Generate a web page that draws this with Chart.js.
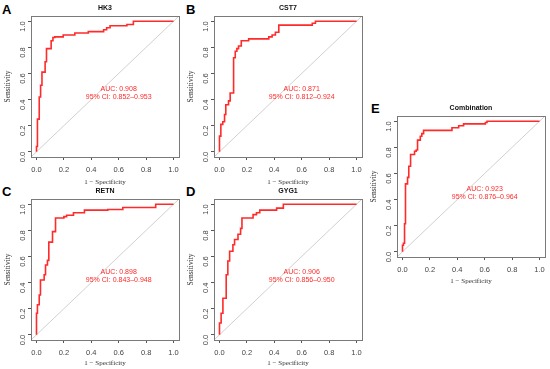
<!DOCTYPE html>
<html>
<head>
<meta charset="utf-8">
<script src="https://cdn.jsdelivr.net/npm/chart.js@4"></script>
<style>
  body { margin: 0; width: 550px; height: 369px; position: relative; overflow: hidden; background: #fff; }
  canvas { position: absolute; }
  .tag { position: absolute; font: bold 13px "Liberation Sans", Arial, sans-serif; line-height: 13px; color: #000; }
</style>
</head>
<body>
<div class="tag" style="left:2px;top:3px">A</div>
<div class="tag" style="left:186px;top:3px">B</div>
<div class="tag" style="left:2px;top:185px">C</div>
<div class="tag" style="left:186px;top:185px">D</div>
<div class="tag" style="left:371px;top:102px">E</div>
<canvas id="chartA"></canvas>
<canvas id="chartB"></canvas>
<canvas id="chartC"></canvas>
<canvas id="chartD"></canvas>
<canvas id="chartE"></canvas>
<script>
// ROC points (1 - specificity, sensitivity)
const hk3Fpr = [0, 0, 0.007, 0.02, 0.03, 0.04, 0.049, 0.063, 0.073, 0.107, 0.12, 0.134, 0.195, 0.28, 0.378, 0.49, 0.512, 0.537, 0.66, 0.707, 1];
const hk3Tpr = [0, 0.04, 0.25, 0.42, 0.51, 0.61, 0.61, 0.69, 0.79, 0.85, 0.875, 0.88, 0.895, 0.91, 0.92, 0.935, 0.95, 0.965, 0.975, 1, 1];

const cst7Fpr = [0, 0, 0.01, 0.024, 0.037, 0.046, 0.066, 0.078, 0.103, 0.115, 0.127, 0.139, 0.159, 0.213, 0.36, 0.384, 0.408, 0.433, 0.677, 0.7, 1];
const cst7Tpr = [0, 0.12, 0.21, 0.23, 0.285, 0.36, 0.39, 0.45, 0.72, 0.77, 0.79, 0.81, 0.85, 0.865, 0.88, 0.895, 0.915, 0.97, 0.985, 1, 1];

const retnFpr = [0, 0, 0.007, 0.02, 0.029, 0.056, 0.066, 0.08, 0.09, 0.117, 0.139, 0.2, 0.22, 0.27, 0.35, 0.52, 0.63, 0.87, 1];
const retnTpr = [0, 0.165, 0.23, 0.305, 0.42, 0.46, 0.535, 0.57, 0.71, 0.79, 0.895, 0.905, 0.915, 0.935, 0.955, 0.96, 0.975, 1, 1];

const gyg1Fpr = [0, 0, 0.012, 0.025, 0.049, 0.061, 0.074, 0.098, 0.11, 0.135, 0.154, 0.164, 0.245, 0.27, 0.294, 0.417, 0.466, 1];
const gyg1Tpr = [0, 0.09, 0.165, 0.28, 0.46, 0.565, 0.64, 0.69, 0.73, 0.77, 0.815, 0.895, 0.92, 0.935, 0.955, 0.97, 1, 1];

const combFpr = [0, 0, 0.007, 0.015, 0.022, 0.037, 0.046, 0.059, 0.088, 0.1, 0.11, 0.13, 0.141, 0.154, 0.361, 0.41, 0.446, 0.605, 0.617, 1];
const combTpr = [0, 0.05, 0.065, 0.215, 0.52, 0.57, 0.655, 0.745, 0.77, 0.78, 0.855, 0.885, 0.905, 0.93, 0.95, 0.965, 0.98, 0.99, 1, 1];

const tickVals = [0, 0.2, 0.4, 0.6, 0.8, 1.0];
const refLine = [-0.04, 1.04];

const rocText = {
  id: "rocText",
  afterDraw(chart, args, opts) {
    const { ctx, chartArea: a, scales } = chart;
    ctx.save();
    ctx.strokeStyle = "#7a7a7a";
    ctx.lineWidth = 1;
    ctx.strokeRect(Math.round(a.left) + 0.5, Math.round(a.top) + 0.5, Math.round(a.width), Math.round(a.height));

    ctx.fillStyle = "#111";
    ctx.font = 'bold 7px "Liberation Sans", Arial, sans-serif';
    ctx.textAlign = "center";
    ctx.textBaseline = "middle";
    ctx.fillText(opts.title, (a.left + a.right) / 2, a.top - 7.5);

    ctx.fillStyle = "#ff2a2a";
    ctx.font = '7px "Liberation Sans", Arial, sans-serif';
    const tx = scales.x.getPixelForValue(0.6);
    ctx.fillText("AUC: " + opts.auc, tx, scales.y.getPixelForValue(0.48));
    ctx.fillText("95% CI: " + opts.ci, tx, scales.y.getPixelForValue(0.42));
    ctx.restore();
  },
};

function axisCommon() {
  return {
    type: "linear",
    min: -0.04,
    max: 1.04,
    afterBuildTicks: (s) => { s.ticks = tickVals.map((v) => ({ value: v })); },
    grid: { drawOnChartArea: false, drawTicks: true, tickLength: 3, color: "#555", lineWidth: 1 },
    border: { display: false },
  };
}

function rocChart(id, fpr, tpr, p) {
  const canvas = document.getElementById(id);
  canvas.width = 185;
  canvas.height = p.h;
  canvas.style.left = p.left + "px";
  canvas.style.top = p.top + "px";

  const xAxis = axisCommon();
  xAxis.afterFit = (s) => { s.height = p.h - 157; };
  xAxis.ticks = {
    autoSkip: false, maxRotation: 0, padding: 5, color: "#444",
    font: { family: '"Liberation Sans", Arial, sans-serif', size: 7.5 },
    callback: (v) => Number(v).toFixed(1),
  };
  xAxis.title = {
    display: true, text: "1 \u2212 Specificity", color: "#333",
    font: { family: '"Liberation Serif", "Times New Roman", serif', size: 7 },
    padding: { top: 0, bottom: 4 },
  };

  const yAxis = axisCommon();
  yAxis.afterFit = (s) => { s.width = 31; };
  yAxis.ticks = {
    autoSkip: false, minRotation: 90, maxRotation: 90, padding: 5, color: "#444",
    font: { family: '"Liberation Sans", Arial, sans-serif', size: 7.5 },
    callback: (v) => Number(v).toFixed(1),
  };
  yAxis.title = {
    display: true, text: "Sensitivity", color: "#333",
    font: { family: '"Liberation Serif", "Times New Roman", serif', size: 7.5 },
    padding: { top: 3.5, bottom: 0 },
  };

  return new Chart(canvas, {
    type: "line",
    data: {
      datasets: [
        {
          data: fpr.map((x, i) => ({ x, y: tpr[i] })),
          borderColor: "#ff2a2a",
          borderWidth: 1.6,
          stepped: "before",
          pointRadius: 0,
          fill: false,
        },
        {
          data: refLine.map((v) => ({ x: v, y: v })),
          borderColor: "#c4c4c4",
          borderWidth: 0.8,
          pointRadius: 0,
          fill: false,
        },
      ],
    },
    options: {
      responsive: false,
      animation: false,
      events: [],
      layout: { padding: { left: 0, top: 16, right: 6, bottom: 0 } },
      plugins: {
        legend: { display: false },
        tooltip: { enabled: false },
        rocText: { title: p.title, auc: p.auc, ci: p.ci },
      },
      scales: { x: xAxis, y: yAxis },
    },
    plugins: [rocText],
  });
}

rocChart("chartA", hk3Fpr, hk3Tpr, { left: 0, top: 0, h: 190, title: "HK3", auc: "0.908", ci: "0.852\u20130.953" });
rocChart("chartB", cst7Fpr, cst7Tpr, { left: 183, top: 0, h: 190, title: "CST7", auc: "0.871", ci: "0.812\u20130.924" });
rocChart("chartC", retnFpr, retnTpr, { left: 0, top: 183, h: 188, title: "RETN", auc: "0.898", ci: "0.843\u20130.948" });
rocChart("chartD", gyg1Fpr, gyg1Tpr, { left: 183, top: 183, h: 188, title: "GYG1", auc: "0.906", ci: "0.856\u20130.950" });
rocChart("chartE", combFpr, combTpr, { left: 366, top: 100, h: 189, title: "Combination", auc: "0.923", ci: "0.876\u20130.964" });
</script>
</body>
</html>
